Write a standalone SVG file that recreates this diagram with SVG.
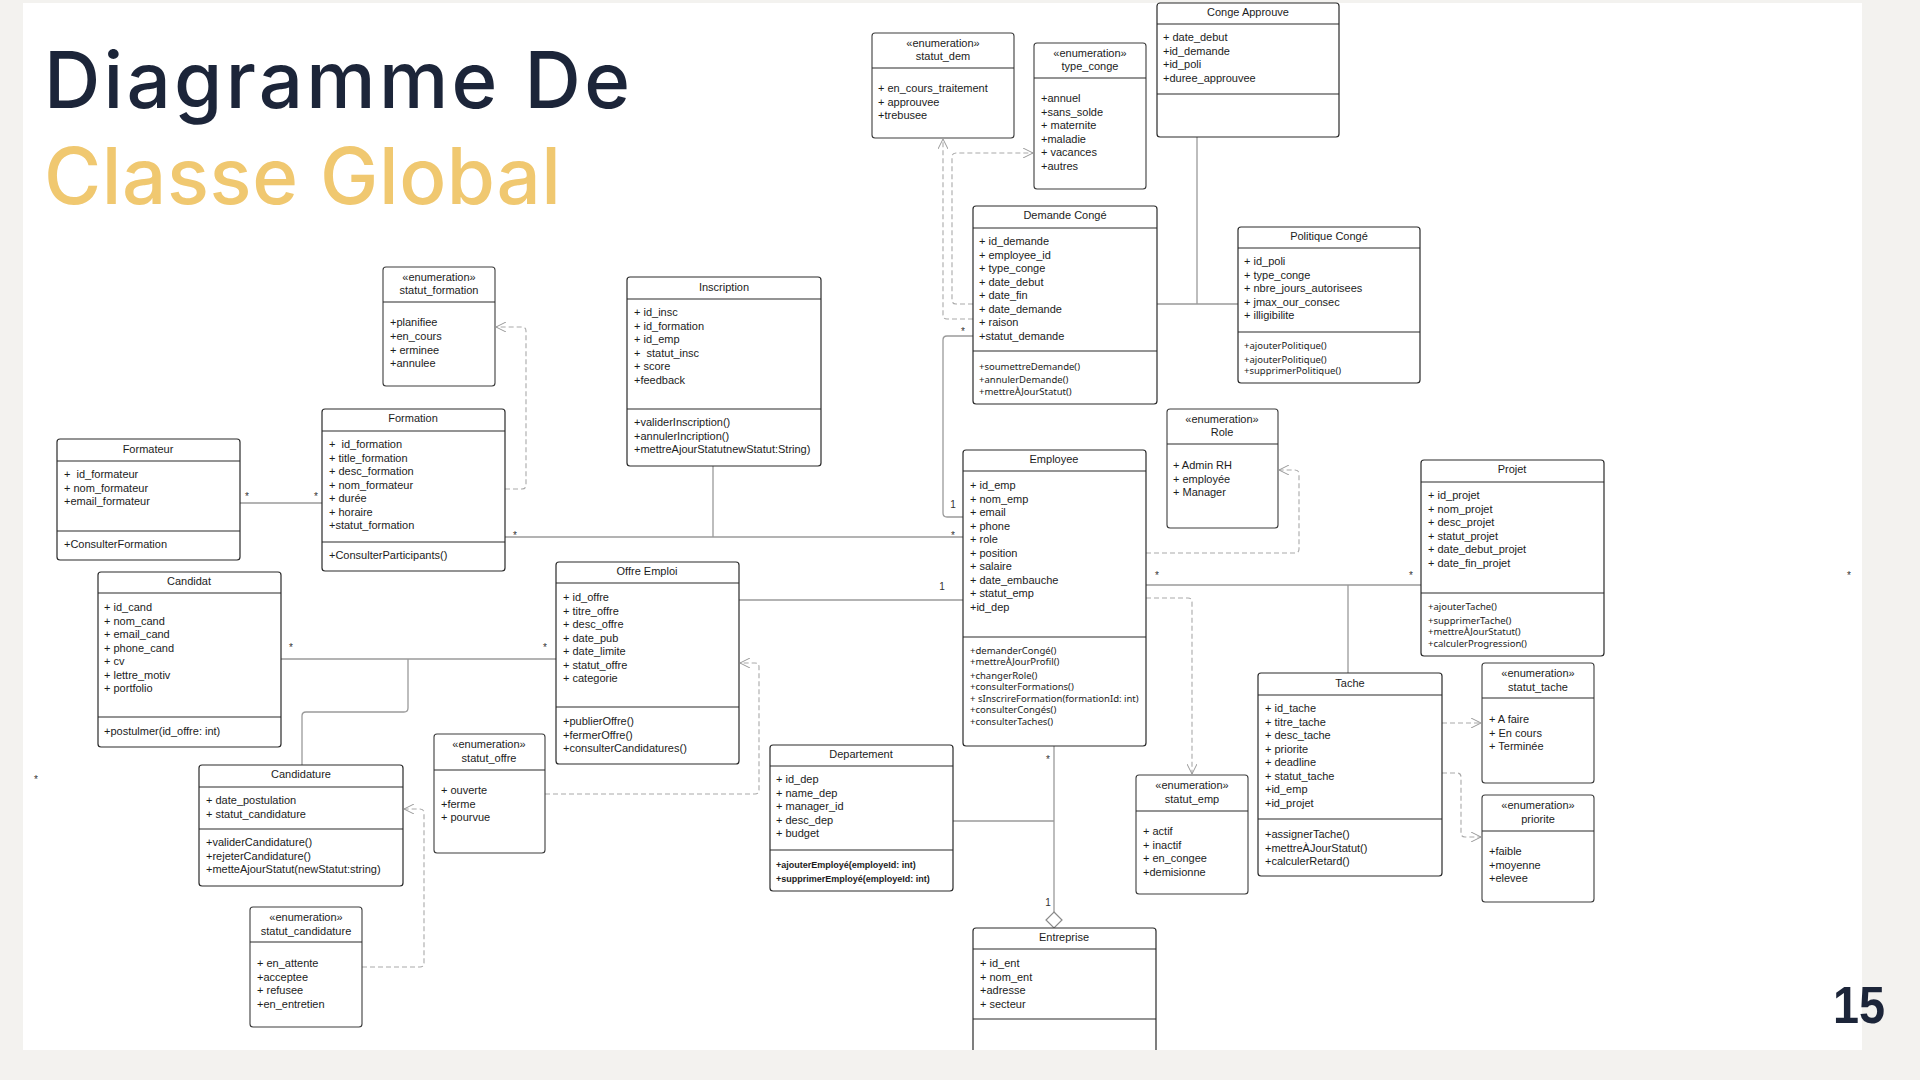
<svg xmlns="http://www.w3.org/2000/svg" width="1920" height="1080" viewBox="0 0 1920 1080">
<style>
text{white-space:pre;font-family:"Liberation Sans",Arial,sans-serif;fill:#1c1c1c}
.box{fill:#fff;stroke:#2a2a2a;stroke-width:1.2}
.en{fill:#fff;stroke:#3c3c3c;stroke-width:1.1}
.sep{stroke:#2a2a2a;stroke-width:1.2}
.t{font-size:11px}
.tt{font-size:11px;text-anchor:middle}
.m{font-size:9.5px;font-family:"Noto Sans","Liberation Sans",sans-serif}
.mb{font-size:9px;font-weight:bold}
.lab{font-size:10px;text-anchor:middle;fill:#333}
.sol{fill:none;stroke:#9a9a9a;stroke-width:1.3}
.dash{fill:none;stroke:#a9a9a9;stroke-width:1.1;stroke-dasharray:5 3}
.big{font-family:"Inter","Noto Sans",sans-serif;font-weight:500;font-size:78px}
</style>
<defs>
<marker id="open" viewBox="0 0 10 10" refX="10" refY="5" markerWidth="10" markerHeight="10" markerUnits="userSpaceOnUse" orient="auto">
<path d="M0,0 L10,5 L0,10" fill="none" stroke="#999" stroke-width="1" stroke-dasharray="none"/>
</marker>
</defs>
<rect x="0" y="0" width="1920" height="1080" fill="#f3f2ef"/>
<rect x="23" y="3" width="1839" height="1047" fill="#ffffff"/>
<g id="title">
<text class="big" x="44" y="108" textLength="586" lengthAdjust="spacing" style="fill:#1c2539">Diagramme De</text>
<text class="big" x="44" y="204" textLength="517" lengthAdjust="spacing" style="fill:#f0c870">Classe Global</text>
<text x="1833" y="1023" font-family="Lato, sans-serif" font-weight="bold" font-size="52" textLength="52" lengthAdjust="spacingAndGlyphs" style="fill:#1c2539">15</text>
</g>
<g id="connectors">
<path class="sol" d="M240,503 H322"/>
<path class="sol" d="M505,537 H963"/>
<path class="sol" d="M713,466 V537"/>
<path class="sol" d="M281,659 H556"/>
<path class="sol" d="M408,659 V708 Q408,712 404,712 H306 Q302,712 302,716 V765"/>
<path class="sol" d="M739,600 H963"/>
<path class="sol" d="M973,336 H947 Q943,336 943,340 V513 Q943,517 947,517 H963"/>
<path class="sol" d="M1146,585 H1421"/>
<path class="sol" d="M1348,585 V673"/>
<path class="sol" d="M1054,746 V912"/>
<path d="M1054,912 L1062,920 L1054,928 L1046,920 Z" fill="#fff" stroke="#8a8a8a" stroke-width="1.2"/>
<path class="sol" d="M953,821 H1054"/>
<path class="sol" d="M1197,137 V304"/>
<path class="sol" d="M1157,304 H1238"/>
<path class="dash" d="M505,489 H522 Q526,489 526,485 V331 Q526,327 522,327 H496" marker-end="url(#open)"/>
<path class="dash" d="M1146,553 H1295 Q1299,553 1299,549 V474 Q1299,470 1295,470 H1279" marker-end="url(#open)"/>
<path class="dash" d="M1146,598 H1188 Q1192,598 1192,602 V774" marker-end="url(#open)"/>
<path class="dash" d="M545,794 H755 Q759,794 759,790 V667 Q759,663 755,663 H740" marker-end="url(#open)"/>
<path class="dash" d="M362,967 H420 Q424,967 424,963 V813 Q424,809 420,809 H404" marker-end="url(#open)"/>
<path class="dash" d="M1442,723 H1481" marker-end="url(#open)"/>
<path class="dash" d="M1442,773 H1457 Q1461,773 1461,777 V833 Q1461,837 1465,837 H1481" marker-end="url(#open)"/>
<path class="dash" d="M973,304 H956 Q952,304 952,300 V157 Q952,153 956,153 H1033" marker-end="url(#open)"/>
<path class="dash" d="M973,319 H947 Q943,319 943,315 V139" marker-end="url(#open)"/>
<text class="lab" x="247" y="500">*</text>
<text class="lab" x="316" y="500">*</text>
<text class="lab" x="515" y="539">*</text>
<text class="lab" x="953" y="539">*</text>
<text class="lab" x="291" y="651">*</text>
<text class="lab" x="545" y="651">*</text>
<text class="lab" x="942" y="590">1</text>
<text class="lab" x="963" y="335">*</text>
<text class="lab" x="953" y="508">1</text>
<text class="lab" x="1157" y="579">*</text>
<text class="lab" x="1411" y="579">*</text>
<text class="lab" x="1048" y="763">*</text>
<text class="lab" x="1048" y="906">1</text>
<text class="lab" x="1849" y="579">*</text>
<text class="lab" x="36" y="783">*</text>
</g>
<g id="statut_formation">
<rect class="en" x="383" y="267" width="112" height="119" rx="3"/>
<line class="sep" x1="383" y1="302" x2="495" y2="302"/>
<text class="tt" x="439" y="281">«enumeration»</text>
<text class="tt" x="439" y="294">statut_formation</text>
<text class="t"><tspan x="390" y="326">+planifiee</tspan><tspan x="390" dy="13.8">+en_cours</tspan><tspan x="390" dy="13.8">+ erminee</tspan><tspan x="390" dy="13.8">+annulee</tspan></text>
</g>
<g id="inscription">
<rect class="box" x="627" y="277" width="194" height="189" rx="3"/>
<line class="sep" x1="627" y1="299" x2="821" y2="299"/>
<line class="sep" x1="627" y1="409" x2="821" y2="409"/>
<text class="tt" x="724" y="291">Inscription</text>
<text class="t"><tspan x="634" y="316">+ id_insc</tspan><tspan x="634" dy="13.5">+ id_formation</tspan><tspan x="634" dy="13.5">+ id_emp</tspan><tspan x="634" dy="13.5">+  statut_insc</tspan><tspan x="634" dy="13.5">+ score</tspan><tspan x="634" dy="13.5">+feedback</tspan></text>
<text class="t"><tspan x="634" y="426">+validerInscription()</tspan><tspan x="634" dy="13.5">+annulerIncription()</tspan><tspan x="634" dy="13.5">+mettreAjourStatutnewStatut:String)</tspan></text>
</g>
<g id="formation">
<rect class="box" x="322" y="409" width="183" height="162" rx="3"/>
<line class="sep" x1="322" y1="431" x2="505" y2="431"/>
<line class="sep" x1="322" y1="542" x2="505" y2="542"/>
<text class="tt" x="413" y="422">Formation</text>
<text class="t"><tspan x="329" y="448">+  id_formation</tspan><tspan x="329" dy="13.5">+ title_formation</tspan><tspan x="329" dy="13.5">+ desc_formation</tspan><tspan x="329" dy="13.5">+ nom_formateur</tspan><tspan x="329" dy="13.5">+ durée</tspan><tspan x="329" dy="13.5">+ horaire</tspan><tspan x="329" dy="13.5">+statut_formation</tspan></text>
<text class="t" x="329" y="559">+ConsulterParticipants()</text>
</g>
<g id="formateur">
<rect class="box" x="57" y="439" width="183" height="121" rx="3"/>
<line class="sep" x1="57" y1="461" x2="240" y2="461"/>
<line class="sep" x1="57" y1="531" x2="240" y2="531"/>
<text class="tt" x="148" y="453">Formateur</text>
<text class="t"><tspan x="64" y="478">+  id_formateur</tspan><tspan x="64" dy="13.5">+ nom_formateur</tspan><tspan x="64" dy="13.5">+email_formateur</tspan></text>
<text class="t" x="64" y="548">+ConsulterFormation</text>
</g>
<g id="candidat">
<rect class="box" x="98" y="572" width="183" height="175" rx="3"/>
<line class="sep" x1="98" y1="593" x2="281" y2="593"/>
<line class="sep" x1="98" y1="717" x2="281" y2="717"/>
<text class="tt" x="189" y="585">Candidat</text>
<text class="t"><tspan x="104" y="611">+ id_cand</tspan><tspan x="104" dy="13.5">+ nom_cand</tspan><tspan x="104" dy="13.5">+ email_cand</tspan><tspan x="104" dy="13.5">+ phone_cand</tspan><tspan x="104" dy="13.5">+ cv</tspan><tspan x="104" dy="13.5">+ lettre_motiv</tspan><tspan x="104" dy="13.5">+ portfolio</tspan></text>
<text class="t" x="104" y="735">+postulmer(id_offre: int)</text>
</g>
<g id="offre_emploi">
<rect class="box" x="556" y="562" width="183" height="202" rx="3"/>
<line class="sep" x1="556" y1="583" x2="739" y2="583"/>
<line class="sep" x1="556" y1="707" x2="739" y2="707"/>
<text class="tt" x="647" y="575">Offre Emploi</text>
<text class="t"><tspan x="563" y="601">+ id_offre</tspan><tspan x="563" dy="13.5">+ titre_offre</tspan><tspan x="563" dy="13.5">+ desc_offre</tspan><tspan x="563" dy="13.5">+ date_pub</tspan><tspan x="563" dy="13.5">+ date_limite</tspan><tspan x="563" dy="13.5">+ statut_offre</tspan><tspan x="563" dy="13.5">+ categorie</tspan></text>
<text class="t"><tspan x="563" y="725">+publierOffre()</tspan><tspan x="563" dy="13.5">+fermerOffre()</tspan><tspan x="563" dy="13.5">+consulterCandidatures()</tspan></text>
</g>
<g id="statut_offre">
<rect class="en" x="434" y="734" width="111" height="119" rx="3"/>
<line class="sep" x1="434" y1="770" x2="545" y2="770"/>
<text class="tt" x="489" y="748">«enumeration»</text>
<text class="tt" x="489" y="761.5">statut_offre</text>
<text class="t"><tspan x="441" y="794">+ ouverte</tspan><tspan x="441" dy="13.5">+ferme</tspan><tspan x="441" dy="13.5">+ pourvue</tspan></text>
</g>
<g id="candidature">
<rect class="box" x="199" y="765" width="204" height="121" rx="3"/>
<line class="sep" x1="199" y1="787" x2="403" y2="787"/>
<line class="sep" x1="199" y1="829" x2="403" y2="829"/>
<text class="tt" x="301" y="778">Candidature</text>
<text class="t"><tspan x="206" y="804">+ date_postulation</tspan><tspan x="206" dy="13.5">+ statut_candidature</tspan></text>
<text class="t"><tspan x="206" y="846">+validerCandidature()</tspan><tspan x="206" dy="13.5">+rejeterCandidature()</tspan><tspan x="206" dy="13.5">+metteAjourStatut(newStatut:string)</tspan></text>
</g>
<g id="statut_candidature">
<rect class="en" x="250" y="907" width="112" height="120" rx="3"/>
<line class="sep" x1="250" y1="942" x2="362" y2="942"/>
<text class="tt" x="306" y="921">«enumeration»</text>
<text class="tt" x="306" y="934.5">statut_candidature</text>
<text class="t"><tspan x="257" y="967">+ en_attente</tspan><tspan x="257" dy="13.5">+acceptee</tspan><tspan x="257" dy="13.5">+ refusee</tspan><tspan x="257" dy="13.5">+en_entretien</tspan></text>
</g>
<g id="departement">
<rect class="box" x="770" y="745" width="183" height="146" rx="3"/>
<line class="sep" x1="770" y1="766" x2="953" y2="766"/>
<line class="sep" x1="770" y1="850" x2="953" y2="850"/>
<text class="tt" x="861" y="758">Departement</text>
<text class="t"><tspan x="776" y="783">+ id_dep</tspan><tspan x="776" dy="13.5">+ name_dep</tspan><tspan x="776" dy="13.5">+ manager_id</tspan><tspan x="776" dy="13.5">+ desc_dep</tspan><tspan x="776" dy="13.5">+ budget</tspan></text>
<text class="mb"><tspan x="776" y="867.5">+ajouterEmployé(employeId: int)</tspan><tspan x="776" dy="14">+supprimerEmployé(employeId: int)</tspan></text>
</g>
<g id="employee">
<rect class="box" x="963" y="450" width="183" height="296" rx="3"/>
<line class="sep" x1="963" y1="471" x2="1146" y2="471"/>
<line class="sep" x1="963" y1="637" x2="1146" y2="637"/>
<text class="tt" x="1054" y="463">Employee</text>
<text class="t"><tspan x="970" y="489">+ id_emp</tspan><tspan x="970" dy="13.5">+ nom_emp</tspan><tspan x="970" dy="13.5">+ email</tspan><tspan x="970" dy="13.5">+ phone</tspan><tspan x="970" dy="13.5">+ role</tspan><tspan x="970" dy="13.5">+ position</tspan><tspan x="970" dy="13.5">+ salaire</tspan><tspan x="970" dy="13.5">+ date_embauche</tspan><tspan x="970" dy="13.5">+ statut_emp</tspan><tspan x="970" dy="13.5">+id_dep</tspan></text>
<text class="m"><tspan x="970" y="653.5">+demanderCongé()</tspan><tspan x="970" dy="11.5">+mettreÀJourProfil()</tspan><tspan x="970" dy="13.5">+changerRole()</tspan><tspan x="970" dy="11.5">+consulterFormations()</tspan><tspan x="970" dy="11.5">+ sInscrireFormation(formationId: int)</tspan><tspan x="970" dy="11.5">+consulterCongés()</tspan><tspan x="970" dy="11.5">+consulterTaches()</tspan></text>
</g>
<g id="role">
<rect class="en" x="1167" y="409" width="111" height="119" rx="3"/>
<line class="sep" x1="1167" y1="444" x2="1278" y2="444"/>
<text class="tt" x="1222" y="423">«enumeration»</text>
<text class="tt" x="1222" y="436">Role</text>
<text class="t"><tspan x="1173" y="469">+ Admin RH</tspan><tspan x="1173" dy="13.5">+ employée</tspan><tspan x="1173" dy="13.5">+ Manager</tspan></text>
</g>
<g id="statut_emp">
<rect class="en" x="1136" y="775" width="112" height="119" rx="3"/>
<line class="sep" x1="1136" y1="811" x2="1248" y2="811"/>
<text class="tt" x="1192" y="789">«enumeration»</text>
<text class="tt" x="1192" y="802.5">statut_emp</text>
<text class="t"><tspan x="1143" y="835">+ actif</tspan><tspan x="1143" dy="13.5">+ inactif</tspan><tspan x="1143" dy="13.5">+ en_congee</tspan><tspan x="1143" dy="13.5">+demisionne</tspan></text>
</g>
<g id="entreprise">
<path class="box" d="M973,1050 V931 Q973,928 976,928 H1153 Q1156,928 1156,931 V1050"/>
<line class="sep" x1="973" y1="949" x2="1156" y2="949"/>
<line class="sep" x1="973" y1="1019" x2="1156" y2="1019"/>
<text class="tt" x="1064" y="941">Entreprise</text>
<text class="t"><tspan x="980" y="967">+ id_ent</tspan><tspan x="980" dy="13.5">+ nom_ent</tspan><tspan x="980" dy="13.5">+adresse</tspan><tspan x="980" dy="13.5">+ secteur</tspan></text>
</g>
<g id="tache">
<rect class="box" x="1258" y="673" width="184" height="203" rx="3"/>
<line class="sep" x1="1258" y1="695" x2="1442" y2="695"/>
<line class="sep" x1="1258" y1="819" x2="1442" y2="819"/>
<text class="tt" x="1350" y="687">Tache</text>
<text class="t"><tspan x="1265" y="712">+ id_tache</tspan><tspan x="1265" dy="13.5">+ titre_tache</tspan><tspan x="1265" dy="13.5">+ desc_tache</tspan><tspan x="1265" dy="13.5">+ priorite</tspan><tspan x="1265" dy="13.5">+ deadline</tspan><tspan x="1265" dy="13.5">+ statut_tache</tspan><tspan x="1265" dy="13.5">+id_emp</tspan><tspan x="1265" dy="13.5">+id_projet</tspan></text>
<text class="t"><tspan x="1265" y="838">+assignerTache()</tspan><tspan x="1265" dy="13.5">+mettreÀJourStatut()</tspan><tspan x="1265" dy="13.5">+calculerRetard()</tspan></text>
</g>
<g id="projet">
<rect class="box" x="1421" y="460" width="183" height="196" rx="3"/>
<line class="sep" x1="1421" y1="482" x2="1604" y2="482"/>
<line class="sep" x1="1421" y1="593" x2="1604" y2="593"/>
<text class="tt" x="1512" y="473">Projet</text>
<text class="t"><tspan x="1428" y="499">+ id_projet</tspan><tspan x="1428" dy="13.5">+ nom_projet</tspan><tspan x="1428" dy="13.5">+ desc_projet</tspan><tspan x="1428" dy="13.5">+ statut_projet</tspan><tspan x="1428" dy="13.5">+ date_debut_projet</tspan><tspan x="1428" dy="13.5">+ date_fin_projet</tspan></text>
<text class="m"><tspan x="1428" y="609.5">+ajouterTache()</tspan><tspan x="1428" dy="14">+supprimerTache()</tspan><tspan x="1428" dy="11.5">+mettreÀJourStatut()</tspan><tspan x="1428" dy="11.5">+calculerProgression()</tspan></text>
</g>
<g id="statut_tache">
<rect class="en" x="1482" y="663" width="112" height="120" rx="3"/>
<line class="sep" x1="1482" y1="698" x2="1594" y2="698"/>
<text class="tt" x="1538" y="677">«enumeration»</text>
<text class="tt" x="1538" y="690.5">statut_tache</text>
<text class="t"><tspan x="1489" y="723">+ A faire</tspan><tspan x="1489" dy="13.5">+ En cours</tspan><tspan x="1489" dy="13.5">+ Terminée</tspan></text>
</g>
<g id="priorite">
<rect class="en" x="1482" y="795" width="112" height="107" rx="3"/>
<line class="sep" x1="1482" y1="831" x2="1594" y2="831"/>
<text class="tt" x="1538" y="809">«enumeration»</text>
<text class="tt" x="1538" y="822.5">priorite</text>
<text class="t"><tspan x="1489" y="855">+faible</tspan><tspan x="1489" dy="13.5">+moyenne</tspan><tspan x="1489" dy="13.5">+elevee</tspan></text>
</g>
<g id="statut_dem">
<rect class="en" x="872" y="33" width="142" height="105" rx="3"/>
<line class="sep" x1="872" y1="68" x2="1014" y2="68"/>
<text class="tt" x="943" y="47">«enumeration»</text>
<text class="tt" x="943" y="60">statut_dem</text>
<text class="t"><tspan x="878" y="92">+ en_cours_traitement</tspan><tspan x="878" dy="13.5">+ approuvee</tspan><tspan x="878" dy="13.5">+trebusee</tspan></text>
</g>
<g id="type_conge">
<rect class="en" x="1034" y="43" width="112" height="146" rx="3"/>
<line class="sep" x1="1034" y1="78" x2="1146" y2="78"/>
<text class="tt" x="1090" y="57">«enumeration»</text>
<text class="tt" x="1090" y="70">type_conge</text>
<text class="t"><tspan x="1041" y="102">+annuel</tspan><tspan x="1041" dy="13.6">+sans_solde</tspan><tspan x="1041" dy="13.6">+ maternite</tspan><tspan x="1041" dy="13.6">+maladie</tspan><tspan x="1041" dy="13.6">+ vacances</tspan><tspan x="1041" dy="13.6">+autres</tspan></text>
</g>
<g id="conge_approuve">
<rect class="box" x="1157" y="3" width="182" height="134" rx="3"/>
<line class="sep" x1="1157" y1="24" x2="1339" y2="24"/>
<line class="sep" x1="1157" y1="94" x2="1339" y2="94"/>
<text class="tt" x="1248" y="16">Conge Approuve</text>
<text class="t"><tspan x="1163" y="41">+ date_debut</tspan><tspan x="1163" dy="13.6">+id_demande</tspan><tspan x="1163" dy="13.6">+id_poli</tspan><tspan x="1163" dy="13.6">+duree_approuvee</tspan></text>
</g>
<g id="demande_conge">
<rect class="box" x="973" y="206" width="184" height="198" rx="3"/>
<line class="sep" x1="973" y1="228" x2="1157" y2="228"/>
<line class="sep" x1="973" y1="351" x2="1157" y2="351"/>
<text class="tt" x="1065" y="219">Demande Congé</text>
<text class="t"><tspan x="979" y="245">+ id_demande</tspan><tspan x="979" dy="13.5">+ employee_id</tspan><tspan x="979" dy="13.5">+ type_conge</tspan><tspan x="979" dy="13.5">+ date_debut</tspan><tspan x="979" dy="13.5">+ date_fin</tspan><tspan x="979" dy="13.5">+ date_demande</tspan><tspan x="979" dy="13.5">+ raison</tspan><tspan x="979" dy="13.5">+statut_demande</tspan></text>
<text class="m"><tspan x="979" y="369.5">+soumettreDemande()</tspan><tspan x="979" dy="13.5">+annulerDemande()</tspan><tspan x="979" dy="11.5">+mettreÀJourStatut()</tspan></text>
</g>
<g id="politique_conge">
<rect class="box" x="1238" y="227" width="182" height="156" rx="3"/>
<line class="sep" x1="1238" y1="248" x2="1420" y2="248"/>
<line class="sep" x1="1238" y1="332" x2="1420" y2="332"/>
<text class="tt" x="1329" y="240">Politique Congé</text>
<text class="t"><tspan x="1244" y="265">+ id_poli</tspan><tspan x="1244" dy="13.5">+ type_conge</tspan><tspan x="1244" dy="13.5">+ nbre_jours_autorisees</tspan><tspan x="1244" dy="13.5">+ jmax_our_consec</tspan><tspan x="1244" dy="13.5">+ illigibilite</tspan></text>
<text class="m"><tspan x="1244" y="348.5">+ajouterPolitique()</tspan><tspan x="1244" dy="14">+ajouterPolitique()</tspan><tspan x="1244" dy="11.5">+supprimerPolitique()</tspan></text>
</g>
</svg>
